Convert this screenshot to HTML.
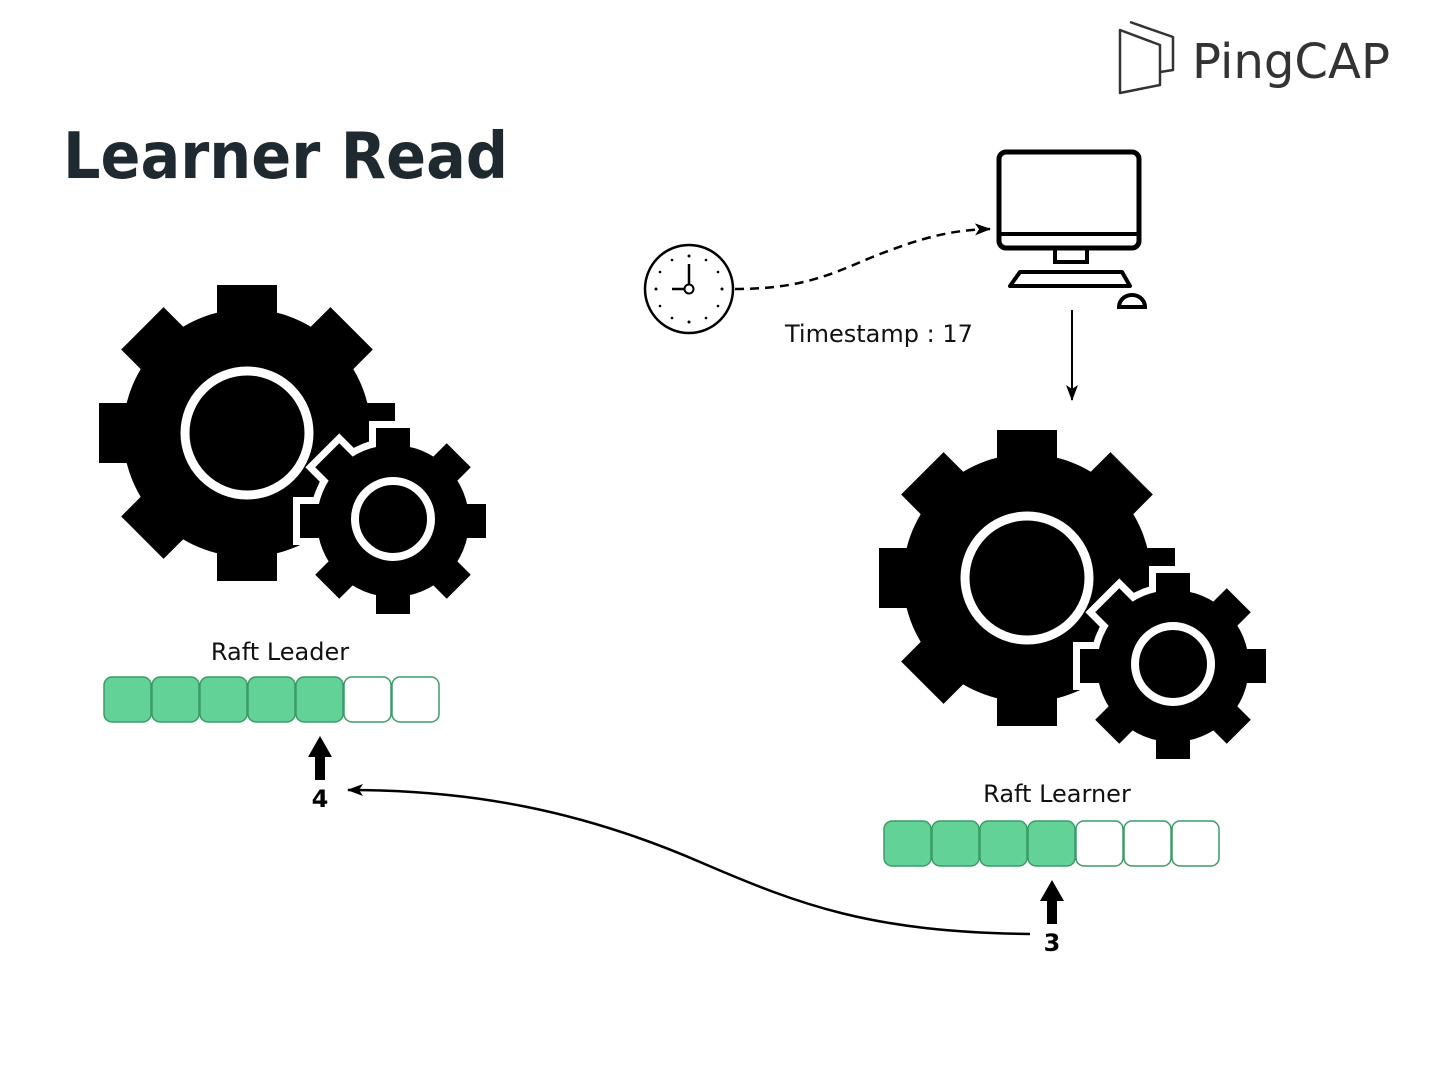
<!DOCTYPE html>
<html><head><meta charset="utf-8"><style>
body{margin:0;background:#fff;}
svg{display:block}
</style></head><body>
<svg width="1440" height="1080" viewBox="0 0 1440 1080" xmlns="http://www.w3.org/2000/svg" font-family="Liberation Sans, sans-serif">
<defs>
  <g id="bigshape">
    <circle cx="0" cy="0" r="124"/>
    <g id="bt"><rect x="-30" y="-148" width="60" height="60"/></g>
    <use href="#bt" transform="rotate(45)"/><use href="#bt" transform="rotate(90)"/>
    <use href="#bt" transform="rotate(135)"/><use href="#bt" transform="rotate(180)"/>
    <use href="#bt" transform="rotate(225)"/><use href="#bt" transform="rotate(270)"/>
    <use href="#bt" transform="rotate(315)"/>
  </g>
  <g id="smallshape">
    <circle cx="0" cy="0" r="76"/>
    <g id="st"><rect x="-17" y="-93" width="34" height="40"/></g>
    <use href="#st" transform="rotate(45)"/><use href="#st" transform="rotate(90)"/>
    <use href="#st" transform="rotate(135)"/><use href="#st" transform="rotate(180)"/>
    <use href="#st" transform="rotate(225)"/><use href="#st" transform="rotate(270)"/>
    <use href="#st" transform="rotate(315)"/>
  </g>
  <g id="gears">
    <use href="#bigshape" transform="translate(247,433)" fill="#000"/>
    <circle cx="247" cy="433" r="62" fill="none" stroke="#fff" stroke-width="9"/>
    <use href="#smallshape" transform="translate(393,521)" fill="#fff" stroke="#fff" stroke-width="14"/>
    <use href="#smallshape" transform="translate(393,521)" fill="#000"/>
    <circle cx="393" cy="519" r="38" fill="none" stroke="#fff" stroke-width="8"/>
  </g>
  <marker id="ah" markerWidth="16" markerHeight="12" refX="15" refY="6" orient="auto" markerUnits="userSpaceOnUse">
    <path d="M0,0 L16,6 L0,12 L4,6 Z" fill="#000"/>
  </marker>
</defs>

<text x="63" y="178" font-size="64" font-weight="bold" fill="#1f2a30" font-family="DejaVu Sans, sans-serif" textLength="445" lengthAdjust="spacingAndGlyphs">Learner Read</text>

<!-- logo -->
<g fill="none" stroke="#333" stroke-width="2.5" stroke-linejoin="round">
  <path d="M1120,30 L1160,45 L1160,85 L1120,93 Z"/>
  <path d="M1130,22 L1173,37 L1173,70 L1160,72"/>
</g>
<text x="1192" y="78" font-size="48" fill="#333" font-family="DejaVu Sans, sans-serif" textLength="198" lengthAdjust="spacingAndGlyphs">PingCAP</text>

<use href="#gears"/>
<use href="#gears" transform="translate(780,145)"/>

<text x="280" y="660" font-size="24" text-anchor="middle" fill="#111" font-family="DejaVu Sans, sans-serif">Raft Leader</text>
<text x="1057" y="802" font-size="24" text-anchor="middle" fill="#111" font-family="DejaVu Sans, sans-serif">Raft Learner</text>

<g stroke="#3d9a68" stroke-width="1.5">
  <rect x="104" y="677" width="47" height="45" rx="8" fill="#62d296"/>
  <rect x="152" y="677" width="47" height="45" rx="8" fill="#62d296"/>
  <rect x="200" y="677" width="47" height="45" rx="8" fill="#62d296"/>
  <rect x="248" y="677" width="47" height="45" rx="8" fill="#62d296"/>
  <rect x="296" y="677" width="47" height="45" rx="8" fill="#62d296"/>
  <rect x="344" y="677" width="47" height="45" rx="8" fill="#fff"/>
  <rect x="392" y="677" width="47" height="45" rx="8" fill="#fff"/>

  <rect x="884" y="821" width="47" height="45" rx="8" fill="#62d296"/>
  <rect x="932" y="821" width="47" height="45" rx="8" fill="#62d296"/>
  <rect x="980" y="821" width="47" height="45" rx="8" fill="#62d296"/>
  <rect x="1028" y="821" width="47" height="45" rx="8" fill="#62d296"/>
  <rect x="1076" y="821" width="47" height="45" rx="8" fill="#fff"/>
  <rect x="1124" y="821" width="47" height="45" rx="8" fill="#fff"/>
  <rect x="1172" y="821" width="47" height="45" rx="8" fill="#fff"/>
</g>

<!-- thick arrows -->
<path d="M315,780 L315,757 L308,757 L320,736 L332,757 L325,757 L325,780 Z" fill="#000"/>
<text x="320" y="807" font-size="24" font-weight="bold" text-anchor="middle" font-family="DejaVu Sans, sans-serif">4</text>
<path d="M1047,924 L1047,901 L1040,901 L1052,880 L1064,901 L1057,901 L1057,924 Z" fill="#000"/>
<text x="1052" y="951" font-size="24" font-weight="bold" text-anchor="middle" font-family="DejaVu Sans, sans-serif">3</text>

<!-- curve -->
<path d="M1030,934 C870,932 800,905 700,862 C580,810 470,790 348,790" fill="none" stroke="#000" stroke-width="2.5" marker-end="url(#ah)"/>

<!-- clock -->
<circle cx="689" cy="289" r="44" fill="none" stroke="#000" stroke-width="2.5"/>
<g fill="#000">
  <circle cx="689" cy="256" r="1.5"/><circle cx="689" cy="322" r="1.5"/>
  <circle cx="656" cy="289" r="1.5"/><circle cx="722" cy="289" r="1.5"/>
  <circle cx="672" cy="260" r="1.3"/><circle cx="706" cy="260" r="1.3"/>
  <circle cx="672" cy="318" r="1.3"/><circle cx="706" cy="318" r="1.3"/>
  <circle cx="660" cy="272" r="1.3"/><circle cx="718" cy="272" r="1.3"/>
  <circle cx="660" cy="306" r="1.3"/><circle cx="718" cy="306" r="1.3"/>
</g>
<path d="M689,264 L689,284 M684,289 L672,289" stroke="#000" stroke-width="2.5"/>
<circle cx="689" cy="289" r="4.5" fill="#fff" stroke="#000" stroke-width="2"/>

<path d="M735,289 C800,289 830,275 870,258 C920,238 950,230 990,229" fill="none" stroke="#000" stroke-width="2.5" stroke-dasharray="9,6" marker-end="url(#ah)"/>
<text x="785" y="342" font-size="24" fill="#111" font-family="DejaVu Sans, sans-serif">Timestamp : 17</text>

<!-- computer -->
<rect x="999" y="152" width="140" height="96" rx="7" fill="none" stroke="#000" stroke-width="5"/>
<line x1="999" y1="234" x2="1139" y2="234" stroke="#000" stroke-width="4"/>
<rect x="1055" y="248" width="32" height="14" fill="none" stroke="#000" stroke-width="4"/>
<path d="M1020,272 L1122,272 L1130,286 L1010,286 Z" fill="none" stroke="#000" stroke-width="4" stroke-linejoin="round"/>
<path d="M1119,307 A13,12 0 0 1 1145,307 Z" fill="none" stroke="#000" stroke-width="4"/>

<line x1="1072" y1="310" x2="1072" y2="400" stroke="#000" stroke-width="2" marker-end="url(#ah)"/>
</svg>
</body></html>
